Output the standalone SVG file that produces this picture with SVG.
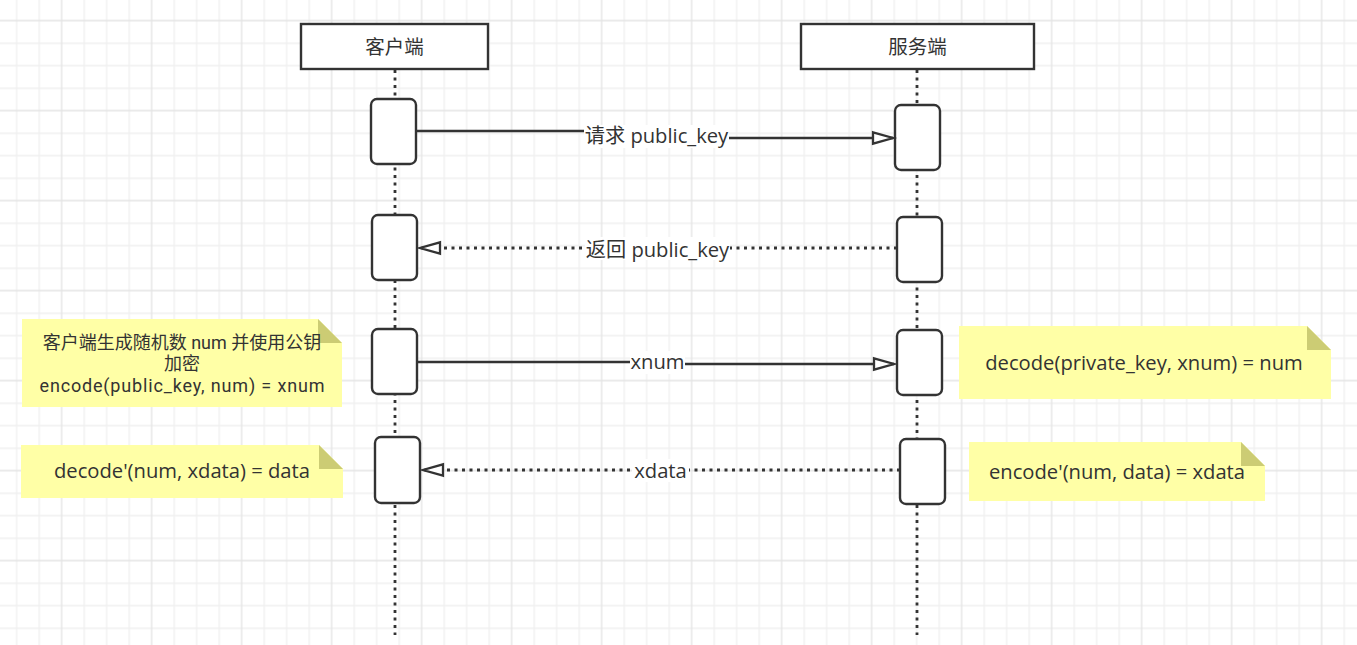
<svg xmlns="http://www.w3.org/2000/svg" width="1357" height="645" viewBox="0 0 1357 645">
  <style>
    .hdr { fill: #ffffff; stroke: #333333; stroke-width: 2.4; }
    .act { fill: #ffffff; stroke: #333333; stroke-width: 2.4; }
    .life { fill: none; stroke: #333333; stroke-width: 2.8; stroke-dasharray: 3 4.5; }
    .msg { fill: none; stroke: #333333; stroke-width: 2.3; }
    .msg.dot { stroke-width: 2.8; stroke-dasharray: 3 4.5; }
    .note { fill: #ffffa6; stroke: none; }
    .fold { fill: #cccc74; stroke: none; }
    .lblbg { fill: #ffffff; stroke: none; }
    text { font-family: "Open Sans", "Noto Sans CJK SC", sans-serif; fill: #333333; text-anchor: middle; }
    .t195 { font-size: 19.5px; }
    .t20 { font-size: 20.2px; }
    .t18 { font-size: 18px; font-family: Roboto, "Noto Sans CJK SC", sans-serif; }
  </style>
  <defs>
    <pattern id="grid" patternUnits="userSpaceOnUse" x="50.45" y="9.45" width="90" height="90">
      <path d="M33.75,0V90M56.25,0V90M78.75,0V90M0,33.75H90M0,56.25H90M0,78.75H90" fill="none" stroke="#f0f0f0" stroke-width="1.3"/>
      <path d="M11.25,0V90M0,11.25H90" fill="none" stroke="#e4e4e4" stroke-width="1.3"/>
    </pattern>
    <marker id="openTri" markerUnits="userSpaceOnUse" viewBox="0 0 26 18" markerWidth="26" markerHeight="18" refX="23" refY="9" orient="auto" overflow="visible">
      <polygon points="3,3.3 23,9 3,14.7" fill="#ffffff" stroke="#333333" stroke-width="2.3" stroke-dasharray="none" stroke-linejoin="miter"/>
    </marker>
  </defs>

  <rect id="background" x="0" y="0" width="1357" height="645" fill="#ffffff"/>
  <rect id="grid-layer" x="0" y="0" width="1357" height="645" fill="url(#grid)"/>

  <g id="lifelines">
    <line class="life" x1="395" y1="70" x2="395" y2="635"/>
    <line class="life" x1="917" y1="70" x2="917" y2="635"/>
  </g>

  <g id="client-header">
    <rect class="hdr" x="301" y="24" width="187" height="45"/>
    <text class="t195" x="394.5" y="53.5">客户端</text>
  </g>
  <g id="server-header">
    <rect class="hdr" x="801" y="24" width="233" height="45"/>
    <text class="t195" x="917.5" y="53.5">服务端</text>
  </g>

  <g id="client-act-1"><rect class="act" x="371" y="99" width="45" height="65" rx="6"/></g>
  <g id="server-act-1"><rect class="act" x="895" y="105" width="45" height="65" rx="6"/></g>
  <g id="client-act-2"><rect class="act" x="372" y="215" width="45" height="65" rx="6"/></g>
  <g id="server-act-2"><rect class="act" x="897" y="217" width="45" height="65" rx="6"/></g>
  <g id="client-act-3"><rect class="act" x="372" y="329" width="45" height="65" rx="6"/></g>
  <g id="server-act-3"><rect class="act" x="897" y="330" width="45" height="65" rx="6"/></g>
  <g id="client-act-4"><rect class="act" x="375" y="437" width="45" height="66" rx="6"/></g>
  <g id="server-act-4"><rect class="act" x="900" y="439" width="45" height="65" rx="6"/></g>

  <g id="connectors">
    <path class="msg" d="M417,131 H656 V138 H893" marker-end="url(#openTri)"/>
    <rect class="lblbg" x="584" y="125" width="145" height="23"/>
    <text class="t20" x="656.5" y="143">请求 public_key</text>

    <path class="msg dot" d="M897,248 H420" marker-end="url(#openTri)"/>
    <rect class="lblbg" x="585" y="237" width="145" height="23"/>
    <text class="t20" x="657.5" y="256.5">返回 public_key</text>

    <path class="msg" d="M418,362 H657 V364 H894" marker-end="url(#openTri)"/>
    <rect class="lblbg" x="630" y="351" width="55" height="23"/>
    <text class="t20" x="657.5" y="369.3">xnum</text>

    <path class="msg dot" d="M900,470 H423" marker-end="url(#openTri)"/>
    <rect class="lblbg" x="632" y="459" width="57" height="23"/>
    <text class="t20" x="660.5" y="478">xdata</text>
  </g>

  <g id="note-client-encrypt">
    <path class="note" d="M22,319 H318 L342,343 V407 H22 Z"/>
    <path class="fold" d="M318,319 V343 H342 Z"/>
    <text class="t18" x="182" y="349">客户端生成随机数 num 并使用公钥</text>
    <text class="t18" x="182" y="370.4">加密</text>
    <text class="t18" x="182" y="391.8" textLength="285" lengthAdjust="spacing">encode(public_key, num) = xnum</text>
  </g>

  <g id="note-client-decode">
    <path class="note" d="M21,445 H319 L343,469 V498 H21 Z"/>
    <path class="fold" d="M319,445 V469 H343 Z"/>
    <text class="t20" x="182" y="478">decode'(num, xdata) = data</text>
  </g>

  <g id="note-server-decode">
    <path class="note" d="M959,326 H1307 L1331,350 V399 H959 Z"/>
    <path class="fold" d="M1307,326 V350 H1331 Z"/>
    <text class="t20" x="1144" y="370">decode(private_key, xnum) = num</text>
  </g>

  <g id="note-server-encode">
    <path class="note" d="M969,442 H1241 L1265,466 V501 H969 Z"/>
    <path class="fold" d="M1241,442 V466 H1265 Z"/>
    <text class="t20" x="1117" y="479">encode'(num, data) = xdata</text>
  </g>
</svg>
